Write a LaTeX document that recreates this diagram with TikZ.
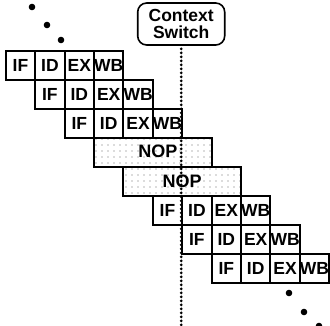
\documentclass[tikz,border=0pt]{standalone}
\usepackage{fontspec}
\setmainfont{Liberation Sans}
\usetikzlibrary{patterns.meta}
\begin{document}
\begin{tikzpicture}[x=1pt,y=-1pt,
  stage/.style={draw,line width=2pt,minimum width=29.4pt,minimum height=29pt,
    inner sep=0pt,anchor=north west,font=\bfseries\fontsize{17.5}{17.5}\selectfont},
  nopbox/.style={draw,line width=2pt,minimum width=117.6pt,minimum height=29pt,
    inner sep=0pt,anchor=north west,
    pattern={Dots[distance=6pt,radius=0.6pt]},pattern color=black!60},
  noptext/.style={font=\bfseries\fontsize{18}{18}\selectfont,inner sep=0pt},
  switchbox/.style={draw,line width=1.6pt,rounded corners=9pt,minimum width=87pt,
    minimum height=42pt,inner sep=1pt,align=center,
    font=\bfseries\fontsize{17.5}{16.5}\selectfont},
  switchline/.style={line width=3pt,dash pattern=on 0pt off 4pt,line cap=round},
  blob/.style={fill=black}]
\useasboundingbox (0,0) rectangle (330,325);

% instruction rows before the switch
\foreach \r in {0,1,2}{
  \foreach \s [count=\k from 0] in {IF,ID,EX,WB}{
    \node[stage] (c\r-\k) at ({4.8+29.4*(\r+\k)},{50+29*\r}) {\s};
  }
}
% two empty slots
\node[nopbox] (nop3) at ({4.8+29.4*3},{50+29*3}) {};
\node[noptext] at (158,{50+29*3+14.5}) {NOP};
\node[nopbox] (nop4) at ({4.8+29.4*4},{50+29*4}) {};
\node[noptext] at (nop4.center) {NOP};
% instruction rows after the switch
\foreach \r in {5,6,7}{
  \foreach \s [count=\k from 0] in {IF,ID,EX,WB}{
    \node[stage] (c\r-\k) at ({4.8+29.4*(\r+\k)},{50+29*\r}) {\s};
  }
}

% context switch marker
\node[switchbox] (cs) at (181.2,24) {Context\\Switch};
\coordinate (csend) at (181.2,327);
\draw[switchline] ([yshift=-3pt]cs.south) -- (csend);

% continuation dots
\foreach \x/\y in {32/7,47/25,61/40,289/293,304/312,319/326}{
  \fill[blob] (\x,\y) circle (3.3pt);
}
\end{tikzpicture}
\end{document}
